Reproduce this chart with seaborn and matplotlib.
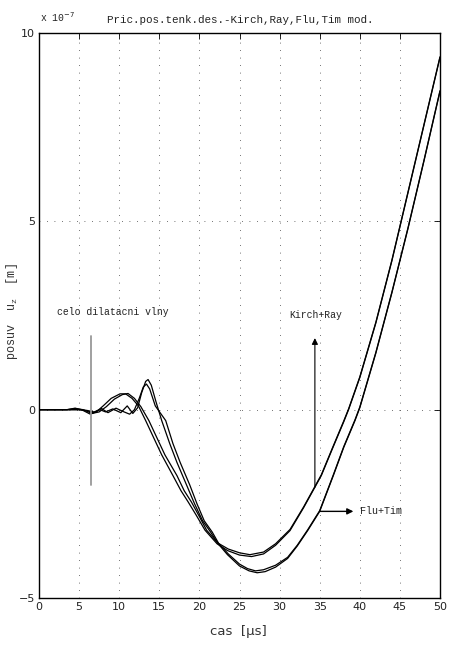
import matplotlib
matplotlib.use("Agg")
import matplotlib.pyplot as plt
import seaborn as sns
from matplotlib import font_manager

# ---- data (displacement in units of 1e-7 m, time in microseconds) ----
t_kirch = [0, 3.5, 4.5, 5.3, 6.4, 7.2, 8.0, 9.0, 10.1, 10.8, 11.6, 12.4, 13.3, 14.2, 15.3,
           16.7, 17.7, 18.6, 19.6, 20.7, 22.2, 23.5, 25.0, 26.5, 28.0, 29.5, 31.3, 33.0,
           34.4, 35.2, 36.6, 38.0, 38.6, 40.0, 42.0, 44.0, 46.0, 48.0, 50.0]
u_kirch = [0, 0, 0.04, 0, -0.12, -0.05, 0.10, 0.30, 0.42, 0.42, 0.30, 0.10, -0.29, -0.70, -1.20,
           -1.75, -2.15, -2.45, -2.80, -3.20, -3.56, -3.74, -3.86, -3.90, -3.83, -3.60, -3.21, -2.60,
           -2.06, -1.75, -1.03, -0.32, 0.0, 0.85, 2.30, 3.95, 5.75, 7.55, 9.35]

t_ray = [0, 3.5, 4.5, 5.5, 6.6, 7.5, 8.4, 9.4, 10.4, 11.1, 11.9, 12.7, 13.7, 14.6, 15.7,
         17.2, 18.1, 19.0, 19.9, 20.9, 22.3, 23.6, 25.0, 26.3, 28.0, 29.5, 31.3, 33.0,
         34.4, 35.2, 36.6, 38.0, 38.6, 40.0, 42.0, 44.0, 46.0, 48.0, 50.0]
u_ray = [0, 0, 0.03, 0, -0.10, -0.06, 0.08, 0.28, 0.40, 0.43, 0.30, 0.08, -0.29, -0.70, -1.20,
         -1.75, -2.15, -2.45, -2.80, -3.20, -3.54, -3.70, -3.80, -3.85, -3.78, -3.56, -3.18, -2.58,
         -2.04, -1.73, -1.01, -0.30, 0.02, 0.87, 2.32, 3.97, 5.77, 7.57, 9.37]

t_flu = [0, 5.0, 6.0, 6.8, 7.6, 8.3, 9.2, 10.2, 11.0, 11.7, 12.3, 12.8, 13.3, 13.6, 14.0, 14.6,
         15.3, 16.3, 17.2, 18.4, 19.4, 20.4, 21.4, 22.3, 23.5, 25.0, 26.2, 27.2, 28.2, 29.5, 31.0,
         32.2, 33.5, 35.0, 36.7, 38.0, 39.4, 40.0, 42.0, 44.0, 46.0, 48.0, 50.0]
u_flu = [0, 0, -0.02, -0.08, 0.0, -0.06, 0.02, -0.08, 0.10, -0.10, 0.05, 0.45, 0.75, 0.80, 0.65, 0.20,
         -0.29, -0.90, -1.40, -2.00, -2.50, -2.95, -3.25, -3.55, -3.85, -4.15, -4.28, -4.33, -4.30,
         -4.18, -3.95, -3.62, -3.21, -2.70, -1.75, -1.00, -0.29, 0.05, 1.50, 3.10, 4.80, 6.60, 8.45]

t_tim = [0, 5.0, 6.0, 6.9, 7.8, 8.6, 9.6, 10.5, 11.3, 11.9, 12.5, 13.0, 13.4, 13.8, 14.5,
         15.8, 16.7, 17.6, 18.8, 19.7, 20.6, 21.6, 22.4, 23.6, 25.0, 26.0, 27.0, 28.0, 29.5, 31.0,
         32.2, 33.5, 35.0, 36.7, 38.0, 39.4, 40.0, 42.0, 44.0, 46.0, 48.0, 50.0]
u_tim = [0, 0, -0.03, -0.06, 0.03, -0.08, 0.04, -0.05, -0.12, 0.0, 0.30, 0.60, 0.68, 0.55, 0.10,
         -0.29, -0.90, -1.40, -2.00, -2.50, -2.95, -3.25, -3.55, -3.83, -4.10, -4.22, -4.28, -4.25,
         -4.13, -3.92, -3.60, -3.19, -2.68, -1.73, -0.98, -0.27, 0.07, 1.52, 3.12, 4.82, 6.62, 8.47]

x_ticks = [0, 5, 10, 15, 20, 25, 30, 35, 40, 45, 50]
y_ticks = [-5, 0, 5, 10]

title_text = "Pric.pos.tenk.des.-Kirch,Ray,Flu,Tim mod."
xlabel_text = "cas  [\u00b5s]"
front_label = "celo dilatacni vlny"
kr_label = "Kirch+Ray"
ft_label = "Flu+Tim"

# ---- style ----
sns.set_style("white")
avail = {f.name for f in font_manager.fontManager.ttflist}
narrow = "Liberation Sans Narrow" if "Liberation Sans Narrow" in avail else "DejaVu Sans"
mono = "Liberation Mono" if "Liberation Mono" in avail else "DejaVu Sans Mono"
plt.rcParams["font.family"] = [narrow, "DejaVu Sans"]

fig = plt.figure(figsize=(4.51, 6.48), dpi=100)
ax = fig.add_axes([39 / 451, 1 - 598 / 648, (440 - 39) / 451, (598 - 33) / 648])

for t, u in [(t_kirch, u_kirch), (t_ray, u_ray), (t_flu, u_flu), (t_tim, u_tim)]:
    sns.lineplot(x=t, y=u, ax=ax, color="black", lw=0.9, sort=False, estimator=None)

ax.set_xlim(0, 50)
ax.set_ylim(-5, 10)
ax.set_xticks(x_ticks)
ax.set_yticks(y_ticks)
ax.tick_params(direction="in", length=4, width=0.6, top=True, right=True,
               labelsize=8, pad=3, colors="black")
for lab in ax.get_xticklabels() + ax.get_yticklabels():
    lab.set_color("#222222")
ax.grid(True, linestyle=(0, (1, 8)), color="#444444", lw=0.6)
for s in ax.spines.values():
    s.set_color("black")
    s.set_linewidth(1.0)

# front of dilatational wave
ax.plot([6.5, 6.5], [-2.0, 1.96], color="#999999", lw=1.3)
ax.text(2.2, 2.58, front_label, family=mono, fontsize=7, ha="left", va="center", color="#222222")

# arrows
ax.annotate("", xy=(34.4, 1.9), xytext=(34.4, -2.06),
            arrowprops=dict(arrowstyle="-|>", color="black", lw=0.8, mutation_scale=9,
                            shrinkA=0, shrinkB=0))
ax.text(34.5, 2.52, kr_label, family=mono, fontsize=7, ha="center", va="center", color="#222222")
ax.annotate("", xy=(39.2, -2.70), xytext=(35.0, -2.70),
            arrowprops=dict(arrowstyle="-|>", color="black", lw=1.0, mutation_scale=9,
                            shrinkA=0, shrinkB=0))
ax.text(40.0, -2.70, ft_label, family=mono, fontsize=7.2, ha="left", va="center", color="#222222")

# labels
fig.text(240 / 451, 1 - 20 / 648, title_text, family=mono, fontsize=7.8,
         ha="center", va="center", color="#222222")
fig.text(40 / 451, 1 - 17 / 648, "x 10$^{-7}$", family=mono, fontsize=7,
         ha="left", va="center", color="#222222")
fig.text(238 / 451, 1 - 631 / 648, xlabel_text, fontsize=9.5, ha="center", va="center",
         color="#333333")
fig.text(12 / 451, 1 - 312 / 648, "posuv  u$_{\\mathregular{z}}$  [m]", family=mono, fontsize=8.5,
         rotation=90, ha="center", va="center", color="#333333")

fig.savefig("out.png", dpi=100)
